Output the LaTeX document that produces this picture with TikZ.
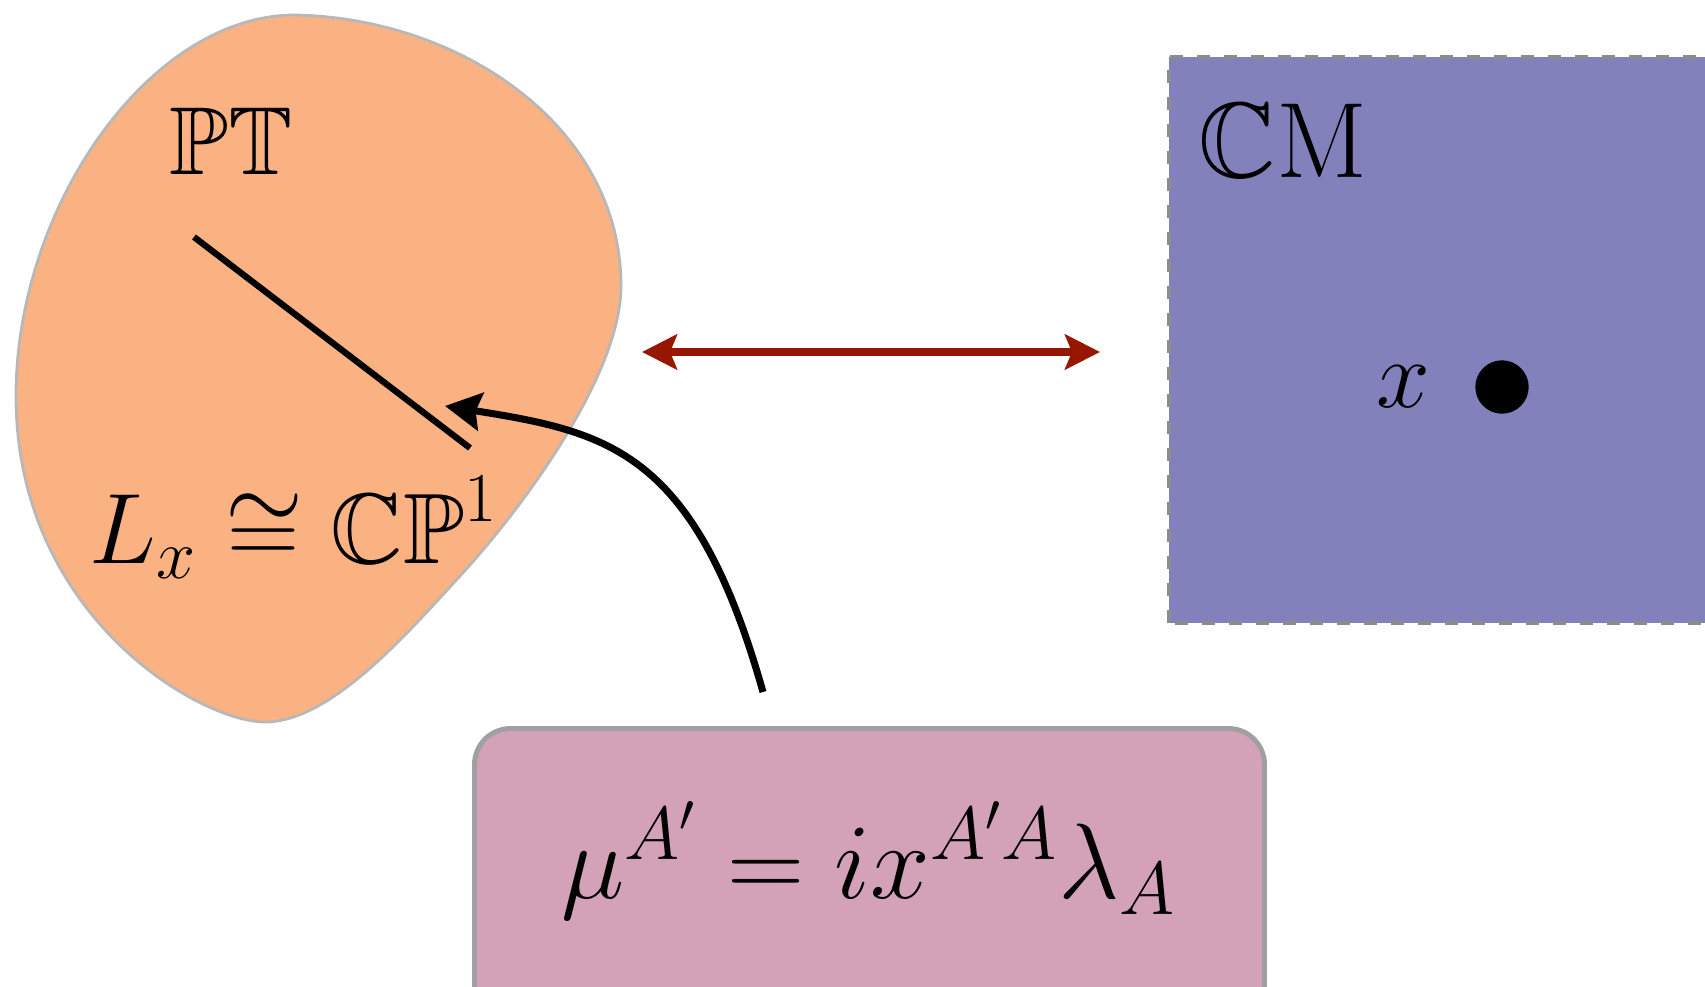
\documentclass[tikz,border=0pt]{standalone}
\usepackage{amsmath,amssymb}
\usetikzlibrary{arrows.meta,positioning}
\DeclareFontShape{OML}{cmm}{m}{it}{<-6>cmmi5<6-7>cmmi6<7-8>cmmi7<8-9>cmmi8<9-10>cmmi9<10-12>cmmi10<12->cmmi12}{}
\DeclareFontShape{OMS}{cmsy}{m}{n}{<-6>cmsy5<6-7>cmsy6<7-8>cmsy7<8-9>cmsy8<9-10>cmsy9<10->cmsy10}{}
\DeclareFontShape{OT1}{cmr}{m}{n}{<-6>cmr5<6-7>cmr6<7-8>cmr7<8-9>cmr8<9-10>cmr9<10-12>cmr10<12-17>cmr12<17->cmr17}{}
\definecolor{twOrange}{RGB}{251,178,130}
\definecolor{twPurple}{RGB}{130,129,188}
\definecolor{twPink}{RGB}{212,162,184}
\definecolor{twRed}{RGB}{150,22,0}
\definecolor{twGray}{RGB}{160,160,160}
\tikzset{
  lbl/.style={font=\fontsize{#1}{#1}\selectfont, inner sep=0pt},
  lbl/.default=27.5,
  blob/.style={fill=twOrange, draw=black!28, line width=0.8pt},
  spacebox/.style={fill=twPurple, draw=black!45, dash pattern=on 1.3mm off 1.4mm, line width=1.2pt},
  eqbox/.style={rounded corners=3.6mm, fill=twPink, draw=twGray, line width=1.4pt},
  corresp/.style={{Stealth[length=3.5mm,width=3.5mm,inset=0.7mm]}-{Stealth[length=3.5mm,width=3.5mm,inset=0.7mm]},
              line width=2.1pt, draw=twRed},
  incid/.style={-{Stealth[length=3.6mm,width=3.8mm,inset=0.5mm]}, line width=2pt},
  cpline/.style={line width=1.8pt}
}
\begin{document}
\begin{tikzpicture}
\useasboundingbox (0,0) rectangle (17.05,9.86);
\clip (0,0) rectangle (17.05,9.86);
\draw[blob] (2.95,9.71) .. controls (4.6,9.68) and (6.21,8.6) .. (6.21,7.0)
  .. controls (6.21,6.1) and (5.2,4.75) .. (4.6,4.1)
  .. controls (4.05,3.5) and (3.3,2.64) .. (2.65,2.64)
  .. controls (2.0,2.64) and (0.16,3.7) .. (0.16,5.9)
  .. controls (0.16,7.8) and (1.5,9.71) .. cycle;
\draw[spacebox] (11.69,3.63) rectangle (17.6,9.29);
\draw[eqbox] (4.745,-0.6) rectangle (12.645,2.575);

\node[lbl, anchor=base] (pt) at (2.31,8.12) {$\mathbb{PT}$};
\node[lbl=28.5, anchor=base] (lx) at (2.94,4.23) {$L_x \cong \mathbb{CP}^1$};
\node[lbl=30.5, anchor=base] (cm) at (12.83,8.09) {$\mathbb{C}\mathrm{M}$};
\node[lbl=27.5, anchor=base] (xlab) at (14.03,5.79) {$x$};
\node[circle, fill=black, minimum size=5.34mm, inner sep=0pt] (pnt) at (15.02,5.99) {};
\node[lbl=30.5, anchor=base] (incidence) at (8.69,0.88) {$\mu^{A'} = i x^{A'A} \lambda_A$};

\coordinate (la) at (1.94,7.49);
\coordinate (lb) at (4.70,5.38);
\coordinate (ptside) at (6.42,6.34);
\coordinate (cmside) at (11.00,6.34);
\coordinate (eqtop) at (7.63,2.94);
\coordinate (ontip) at (4.45,5.80);

\draw[cpline] (la) -- (lb);
\draw[corresp] (ptside) -- (cmside);
\draw[incid] (eqtop) .. controls (6.95,5.35) and (6.09,5.54) .. (ontip);
\end{tikzpicture}
\end{document}
